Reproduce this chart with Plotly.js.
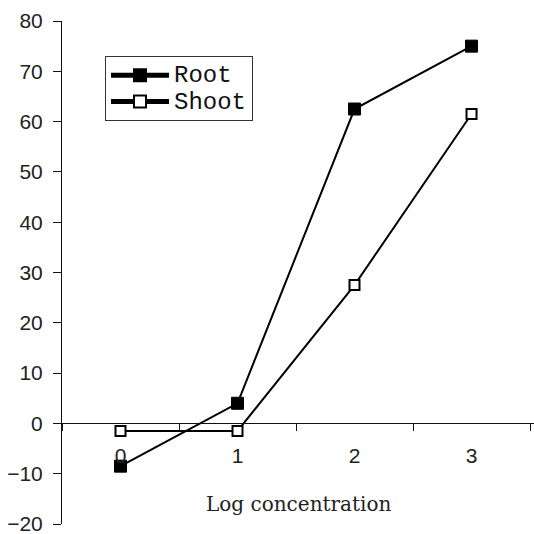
<!DOCTYPE html>
<html><head><meta charset="utf-8">
<script src="https://cdn.plot.ly/plotly-3.0.1.min.js"></script>
<style>html,body{margin:0;padding:0;background:#fff}#chart{width:534px;height:534px}</style>
</head><body><div id="chart"></div>
<script>
const categories = ['0', '1', '2', '3'];
const rootValues = [-8.5, 4, 62.5, 75];
const shootValues = [-1.5, -1.5, 27.5, 61.5];
const yTicks = [-20, -10, 0, 10, 20, 30, 40, 50, 60, 70, 80];
const seriesNames = ['Root', 'Shoot'];
const xTitle = 'Log concentration';

const big = s => '<span style="font-size:24px">' + s + '</span>';

const traces = [
  {x: categories, y: rootValues, name: big(seriesNames[0]), type: 'scatter', mode: 'lines+markers',
   line: {color: '#000', width: 2},
   marker: {symbol: 'square', size: 12, color: '#000', line: {color: '#000', width: 1}}},
  {x: categories, y: shootValues, name: big(seriesNames[1]), type: 'scatter', mode: 'lines+markers',
   line: {color: '#000', width: 2},
   marker: {symbol: 'square', size: 10, color: '#fff', line: {color: '#000', width: 2}}}
];

const layout = {
  width: 534, height: 534,
  margin: {l: 62, r: 0, t: 21, b: 10, pad: 0},
  paper_bgcolor: '#fff', plot_bgcolor: 'rgba(0,0,0,0)',
  showlegend: true,
  legend: {x: (105-62)/472, xanchor: 'left', y: (524-56)/503, yanchor: 'top',
           xref: 'paper', yref: 'paper',
           bordercolor: '#333', borderwidth: 1, bgcolor: '#fff',
           font: {family: 'Liberation Mono, Courier New, monospace', size: 18, color: '#111'},
           tracegroupgap: 0, itemwidth: 58, itemsizing: 'constant'},
  xaxis: {type: 'category', range: [-0.5, 3.534], tickson: 'boundaries',
          anchor: 'free', position: 0.2, showline: true, linecolor: '#111', linewidth: 1,
          ticks: 'outside', ticklen: 7, tickcolor: '#111', tickwidth: 1,
          showgrid: false, zeroline: false, ticklabelstandoff: 13,
          tickfont: {family: 'Liberation Sans, Arial, sans-serif', size: 21, color: '#222'}},
  yaxis: {range: [-20, 80], tickvals: yTicks, showline: true, linecolor: '#111', linewidth: 1,
          ticks: 'outside', ticklen: 8, tickcolor: '#111', tickwidth: 1,
          showgrid: false, zeroline: false, ticklabelstandoff: 6, ticklabeloverflow: 'allow',
          tickfont: {family: 'Liberation Sans, Arial, sans-serif', size: 21, color: '#222'}},
  annotations: [{text: xTitle, xref: 'paper', yref: 'paper', x: (299-62)/472, y: (524-504)/503,
                 xanchor: 'center', yanchor: 'middle', showarrow: false,
                 font: {family: 'DejaVu Serif, serif', size: 20, color: '#222'}}]
};

Plotly.newPlot('chart', traces, layout, {displayModeBar: false, staticPlot: true});
</script></body></html>
